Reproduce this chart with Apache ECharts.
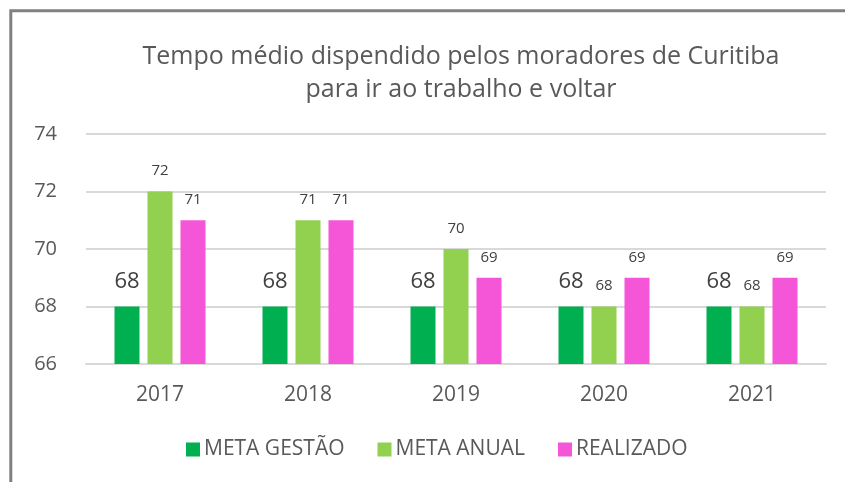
<!DOCTYPE html>
<html>
<head>
    <meta charset="utf-8">
    <title>Tempo médio dispendido</title>
    <script src="https://cdn.jsdelivr.net/npm/echarts@6/dist/echarts.min.js"></script>
    <style>
        html, body { margin: 0; padding: 0; background: #fff; }
        #chart { width: 845px; height: 482px; }
    </style>
</head>
<body>
<div id="chart"></div>
<script>
    // data
    var years = ['2017', '2018', '2019', '2020', '2021'];
    var metaGestao = [68, 68, 68, 68, 68];
    var metaAnual = [72, 71, 70, 68, 68];
    var realizado = [71, 71, 69, 69, 69];
    var yTicks = [66, 68, 70, 72, 74];

    var txt = '#595959';
    var font = '"Open Sans", "Noto Sans", sans-serif';

    var myChart = echarts.init(document.getElementById('chart'));

    function barSeries(name, data, color, labelSize, dist) {
        return {
            name: name,
            type: 'bar',
            data: data,
            barWidth: 25,
            barGap: '32%',
            itemStyle: { color: color },
            label: {
                show: true,
                position: 'top',
                distance: dist,
                fontSize: labelSize,
                fontFamily: font,
                color: '#404040'
            }
        };
    }

    myChart.setOption({
        animation: false,
        textStyle: { fontFamily: font },
        title: {
            text: 'Tempo médio dispendido pelos moradores de Curitiba\npara ir ao trabalho e voltar',
            left: 456,
            top: 35,
            textAlign: 'center',
            textStyle: {
                fontSize: 25,
                fontWeight: 'normal',
                color: txt,
                fontFamily: font,
                lineHeight: 33
            }
        },
        graphic: [{
            type: 'polyline',
            shape: { points: [[10.8, 482], [10.8, 10.8], [845, 10.8]] },
            style: { stroke: '#808080', lineWidth: 3, fill: null }
        }],
        legend: {
            data: ['META GESTÃO', 'META ANUAL', 'REALIZADO'],
            left: 181,
            top: 434,
            itemWidth: 14,
            itemHeight: 14,
            itemGap: 33,
            icon: 'rect',
            textStyle: { fontSize: 21, color: txt, fontFamily: font, padding: [0, 0, 0, -1] }
        },
        grid: { left: 86, right: 19, top: 134, bottom: 118 },
        xAxis: {
            type: 'category',
            data: years,
            axisLine: { show: true, lineStyle: { color: '#D9D9D9', width: 2 } },
            axisTick: { show: false },
            axisLabel: { fontSize: 21, color: txt, margin: 21, fontFamily: font }
        },
        yAxis: {
            type: 'value',
            min: yTicks[0],
            max: yTicks[yTicks.length - 1],
            interval: 2,
            axisLine: { show: false },
            axisTick: { show: false },
            axisLabel: { fontSize: 20, color: txt, margin: 29, fontFamily: font },
            splitLine: { lineStyle: { color: '#D9D9D9', width: 2 } }
        },
        series: [
            barSeries('META GESTÃO', metaGestao, '#00B050', 22, 14),
            barSeries('META ANUAL', metaAnual, '#92D050', 15, 13),
            barSeries('REALIZADO', realizado, '#F556D8', 15, 13)
        ]
    });
</script>
</body>
</html>
